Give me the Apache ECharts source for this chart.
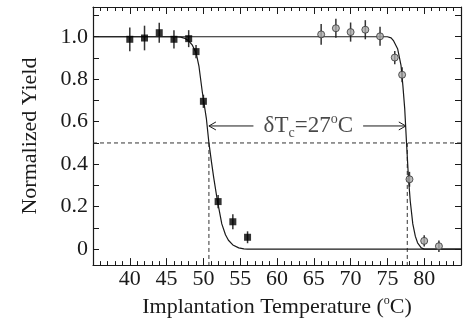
<!DOCTYPE html>
<html><head><meta charset="utf-8">
<script src="https://cdn.jsdelivr.net/npm/echarts@6/dist/echarts.min.js"></script>
<style>html,body{margin:0;padding:0;background:#fff}#c{width:464px;height:324px}</style>
</head><body><div id="c"></div>
<script>
// ---- data ----
const squareX = [40, 42, 44, 46, 48, 49, 50, 52, 54, 56];
const squareY = [0.988, 0.994, 1.019, 0.988, 0.991, 0.930, 0.696, 0.224, 0.129, 0.056];
const squareErr = [0.056, 0.058, 0.047, 0.043, 0.04, 0.031, 0.031, 0.031, 0.035, 0.028];
const circleX = [66, 68, 70, 72, 74, 76, 77, 78, 80, 82];
const circleY = [1.011, 1.040, 1.022, 1.033, 1.002, 0.902, 0.821, 0.329, 0.039, 0.014];
const circleErr = [0.049, 0.045, 0.045, 0.045, 0.045, 0.031, 0.035, 0.035, 0.027, 0.027];
const fit1X = [35, 46, 46.9, 47.5, 48, 48.5, 49, 49.4, 49.85, 50.4, 50.75, 51.1, 51.4, 51.9, 52.5, 53, 53.4, 54, 54.8, 55.5, 56, 85];
const fit1Y = [1, 1, 0.998, 0.992, 0.981, 0.96, 0.925, 0.86, 0.74, 0.616, 0.5, 0.41, 0.337, 0.228, 0.119, 0.068, 0.042, 0.02, 0.006, 0.001, 0, 0];
const fit2X = [35, 75, 75.5, 75.85, 76.4, 76.85, 77.1, 77.35, 77.6, 77.86, 78.1, 78.45, 78.8, 79.1, 79.6, 80, 85];
const fit2Y = [1, 1, 0.995, 0.98, 0.942, 0.865, 0.771, 0.663, 0.5, 0.337, 0.228, 0.119, 0.06, 0.03, 0.006, 0, 0];
const xTicks = [35, 40, 45, 50, 55, 60, 65, 70, 75, 80, 85];
const yTickValues = [0, 0.1, 0.2, 0.3, 0.4, 0.5, 0.6, 0.7, 0.8, 0.9, 1.0, 1.1];
const yLabelValues = [0, 0.2, 0.4, 0.6, 0.8, 1.0];
const halfLevel = 0.5;
const tc1 = 50.75, tc2 = 77.7;
const arrowY = 0.58;
const arrowLeft = [56.8, tc1];
const arrowRight = [71.7, tc2 - 0.2];
const annotPos = [64.25, 0.58];
const xMin = 35, xMax = 85, yMin = -0.075, yMax = 1.14;

const FONT = "'Liberation Serif','Times New Roman',serif";
const INK = '#1a1a1a';

const zip = (a, b) => a.map((v, i) => [v, b[i]]);
const zip3 = (a, b, c) => a.map((v, i) => [v, b[i], c[i]]);

function errRender(params, api) {
  const x = api.value(0), y = api.value(1), e = api.value(2);
  const p0 = api.coord([x, y - e]), p1 = api.coord([x, y + e]);
  return { type: 'line', shape: { x1: p0[0], y1: p0[1], x2: p1[0], y2: p1[1] },
    style: { stroke: '#333', lineWidth: 1.5 } };
}
function arrowRender(params, api) {
  const p0 = api.coord([api.value(0), api.value(2)]);
  const p1 = api.coord([api.value(1), api.value(2)]);
  const d = Math.sign(p1[0] - p0[0]);
  return { type: 'group', children: [
    { type: 'line', shape: { x1: p0[0], y1: p0[1], x2: p1[0], y2: p1[1] }, style: { stroke: INK, lineWidth: 1 } },
    { type: 'polyline', shape: { points: [[p1[0] - d * 7, p1[1] - 4], [p1[0], p1[1]], [p1[0] - d * 7, p1[1] + 4]] },
      style: { stroke: INK, fill: null, lineWidth: 1 } }
  ]};
}

const axisLine = { show: true, onZero: false, lineStyle: { color: INK, width: 1.2 } };
const xAxisBase = {
  type: 'value', min: xMin, max: xMax, interval: 5,
  axisLine, splitLine: { show: false },
  axisTick: { show: true, inside: true, length: 7, lineStyle: { color: INK } },
  minorTick: { show: true, splitNumber: 5, length: 4, lineStyle: { color: INK } },
  minorSplitLine: { show: false }
};
const yAxisBase = {
  type: 'value', min: yMin, max: yMax,
  axisLine, splitLine: { show: false },
  axisTick: { show: true, inside: true, length: 6, customValues: yTickValues, lineStyle: { color: INK } }
};

const chart = echarts.init(document.getElementById('c'), null, { renderer: 'canvas' });
chart.setOption({
  animation: false,
  backgroundColor: '#fff',
  grid: { left: 93, right: 1, top: 7, bottom: 56 },
  xAxis: [
    Object.assign({}, xAxisBase, {
      position: 'bottom',
      axisLabel: { show: true, margin: 3, fontFamily: FONT, fontSize: 22, color: INK,
        formatter: v => (v === xMin || v === xMax) ? '' : String(v) },
      name: 'Implantation Temperature ({o|o}C)', nameLocation: 'middle', nameGap: 25,
      nameTextStyle: { fontFamily: FONT, fontSize: 22, color: INK, lineHeight: 24,
        rich: { o: { fontFamily: FONT, fontSize: 12, color: INK, verticalAlign: 'top', lineHeight: 24, padding: [0, 0, 8, 0] } } }
    }),
    Object.assign({}, xAxisBase, { position: 'top', axisLabel: { show: false } })
  ],
  yAxis: [
    Object.assign({}, yAxisBase, {
      position: 'left',
      axisLabel: { show: true, margin: 5, customValues: yLabelValues, fontFamily: FONT, fontSize: 22, color: INK,
        formatter: v => v === 0 ? '0' : v.toFixed(1) },
      name: 'Normalized Yield', nameLocation: 'middle', nameGap: 52,
      nameTextStyle: { fontFamily: FONT, fontSize: 22, color: INK }
    }),
    Object.assign({}, yAxisBase, { position: 'right', axisLabel: { show: false } })
  ],
  series: [
    { type: 'line', data: [[xMin, halfLevel], [xMax, halfLevel]], showSymbol: false, silent: true,
      lineStyle: { color: '#333', width: 1, type: [4, 3] } },
    { type: 'line', data: [[tc1, halfLevel], [tc1, yMin]], showSymbol: false, silent: true,
      lineStyle: { color: '#333', width: 1, type: [4, 3] } },
    { type: 'line', data: [[tc2, halfLevel], [tc2, yMin]], showSymbol: false, silent: true,
      lineStyle: { color: '#333', width: 1, type: [4, 3] } },
    { type: 'line', data: zip(fit1X, fit1Y), showSymbol: false, lineStyle: { color: INK, width: 1.2 } },
    { type: 'line', data: zip(fit2X, fit2Y), showSymbol: false, lineStyle: { color: INK, width: 1.2 } },
    { type: 'custom', renderItem: errRender, data: zip3(squareX, squareY, squareErr), z: 3 },
    { type: 'custom', renderItem: errRender, data: zip3(circleX, circleY, circleErr), z: 3 },
    { type: 'custom', renderItem: arrowRender, z: 3,
      data: [[arrowLeft[0], arrowLeft[1], arrowY], [arrowRight[0], arrowRight[1], arrowY]] },
    { type: 'scatter', data: zip(squareX, squareY), symbol: 'rect', symbolSize: 7, z: 4,
      itemStyle: { color: '#000' } },
    { type: 'scatter', data: zip(circleX, circleY), symbol: 'circle', symbolSize: 7, z: 4,
      itemStyle: { color: '#aaa', borderColor: '#333', borderWidth: 1 } },
    { type: 'scatter', data: [annotPos], symbolSize: 1, z: 5, itemStyle: { color: 'rgba(0,0,0,0)' },
      label: { show: true, position: 'inside', color: INK,
        formatter: '{m|δT}{s|c}{m|=27}{o|o}{m|C}',
        rich: {
          m: { fontFamily: FONT, fontSize: 23, color: INK, lineHeight: 28, verticalAlign: 'middle' },
          s: { fontFamily: FONT, fontSize: 14, color: INK, lineHeight: 28, verticalAlign: 'bottom', padding: [0, 0, 0, 0] },
          o: { fontFamily: FONT, fontSize: 14, color: INK, lineHeight: 28, verticalAlign: 'top' }
        } } }
  ]
});
</script></body></html>
